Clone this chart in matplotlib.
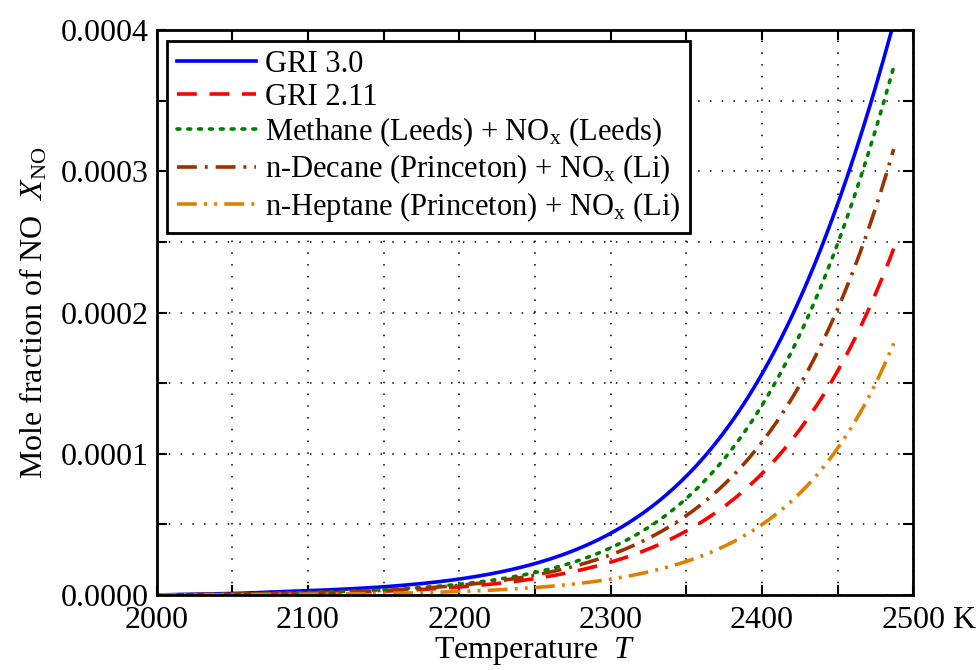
import matplotlib
matplotlib.use("Agg")
import matplotlib.pyplot as plt
from matplotlib.ticker import MultipleLocator, FuncFormatter
from matplotlib.transforms import offset_copy
import numpy as np

plt.rcParams['font.family'] = ['Liberation Serif', 'DejaVu Serif']
plt.rcParams['mathtext.fontset'] = 'custom'
plt.rcParams['mathtext.rm'] = 'Liberation Serif'
plt.rcParams['mathtext.it'] = 'Liberation Serif:italic'

temps = [2000, 2050, 2100, 2150, 2200, 2250, 2300, 2350, 2400, 2450, 2487]

gri30 = [0.0, 1.0e-6, 3.0e-6, 6.0e-6, 1.1e-5, 2.3e-5, 4.1e-5, 8.7e-5, 1.56e-4, 2.82e-4, 4.0e-4]
gri211 = [0.0, 0.4e-6, 1.2e-6, 2.8e-6, 5.7e-6, 1.1e-5, 2.3e-5, 4.6e-5, 9.0e-5, 1.52e-4, 2.48e-4]
methane = [0.0, 0.6e-6, 1.8e-6, 3.8e-6, 7.5e-6, 1.5e-5, 3.5e-5, 6.9e-5, 1.33e-4, 2.46e-4, 3.77e-4]
decane = [0.0, 0.5e-6, 1.5e-6, 3.4e-6, 7.0e-6, 1.3e-5, 2.9e-5, 5.7e-5, 1.1e-4, 2.0e-4, 3.16e-4]
heptane = [0.0, 0.2e-6, 0.5e-6, 1.2e-6, 2.5e-6, 5.0e-6, 1.06e-5, 2.5e-5, 5.1e-5, 1.03e-4, 1.77e-4]

labels = ['GRI 3.0', 'GRI 2.11',
          r'Methane (Leeds) + NO$_\mathrm{x}$ (Leeds)',
          r'n-Decane (Princeton) + NO$_\mathrm{x}$ (Li)',
          r'n-Heptane (Princeton) + NO$_\mathrm{x}$ (Li)']

t_fine = np.linspace(temps[0], temps[-1], 400)


def smooth(vals):
    # smooth cubic through the read points in log space (points from 2100 K up)
    t = np.array(temps[2:], dtype=float)
    v = np.log(np.array(vals[2:], dtype=float))
    c = np.polyfit(t - 2300, v, 3)
    y = np.exp(np.polyval(c, t_fine - 2300))
    low = t_fine < temps[2]
    y[low] = np.interp(t_fine[low], temps[:3], vals[:3])
    return y


fig = plt.figure(figsize=(9.79, 6.7), dpi=100)
ax = fig.add_axes([0.160, 0.112, 0.773, 0.843])

lw = 2.6
ax.plot(t_fine, smooth(gri30), color='#0000ff', lw=lw, label=labels[0])
ax.plot(t_fine, smooth(gri211), color='#ff0000', lw=lw, linestyle=(0, (5.5, 3.5)), label=labels[1])
ax.plot(t_fine, smooth(methane), color='#008000', lw=lw, linestyle=(0, (0.8, 2.2)),
        dash_capstyle='round', label=labels[2])
ax.plot(t_fine, smooth(decane), color='#993300', lw=lw, linestyle=(0, (5.5, 2.2, 0.8, 2.2)),
        label=labels[3])
ax.plot(t_fine, smooth(heptane), color='#e08000', lw=lw,
        linestyle=(0, (5.5, 2.0, 0.8, 2.0, 0.8, 2.0)), label=labels[4])

ax.set_xlim(2000, 2500)
ax.set_ylim(0, 0.0004)
ax.xaxis.set_major_locator(MultipleLocator(100))
ax.xaxis.set_minor_locator(MultipleLocator(50))
ax.yaxis.set_major_locator(MultipleLocator(0.0001))
ax.yaxis.set_minor_locator(MultipleLocator(0.00005))
ax.yaxis.set_major_formatter(FuncFormatter(lambda v, p: '%.4f' % v))
ax.xaxis.set_major_formatter(FuncFormatter(lambda v, p: '%d' % v))

ax.tick_params(which='both', direction='in', top=True, right=True, length=7, width=1.5,
               labelsize=23)
ax.tick_params(axis='x', pad=8)
ax.tick_params(axis='y', pad=6)
ax.grid(which='both', color='black', linestyle=(0, (1, 6.7)), linewidth=1.1)
for s in ax.spines.values():
    s.set_linewidth(2)

ax.text(1.0, 0, ' K', transform=offset_copy(ax.transAxes, fig=fig, x=22.5, y=-8, units='points'),
        fontsize=23, ha='left', va='top')

ax.set_xlabel(r'Temperature  $T$', fontsize=23, labelpad=0)
ax.set_ylabel(r'Mole fraction of NO  $X_{\mathrm{NO}}$', fontsize=23, labelpad=8)

leg = ax.legend(loc='upper left', fontsize=22, handlelength=2.6, handletextpad=0.3,
                labelspacing=0.12, borderpad=0.3, borderaxespad=0.35, fancybox=False,
                framealpha=1, edgecolor='black')
leg.get_frame().set_linewidth(2)

fig.savefig('out.png', dpi=100)
